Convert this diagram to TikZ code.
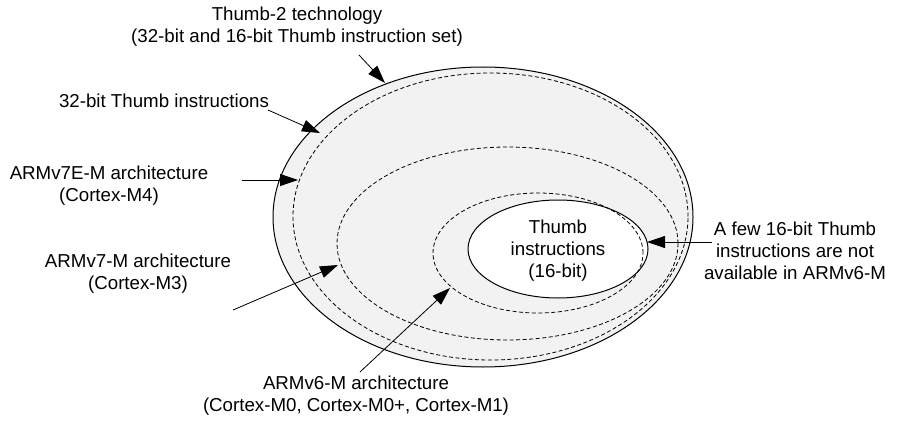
\documentclass[tikz,border=0pt]{standalone}
\usepackage{fontspec}
\setmainfont{Liberation Sans}
\usetikzlibrary{arrows.meta}

\definecolor{setgray}{RGB}{242,242,242}
\tikzset{
  region/.style={line width=1pt},
  subset/.style={line width=0.8pt, dash pattern=on 4pt off 2.5pt},
  pointer/.style={line width=0.8pt, -{Triangle[length=18pt,width=12pt]}},
  txt/.style={align=center, inner sep=0pt}
}

\begin{document}
\begin{tikzpicture}[x=1pt,y=-1pt,font=\fontsize{18.7}{22}\selectfont]
    \useasboundingbox (0,0) rectangle (909,422);
    % the sets
    \draw[region,fill=setgray] (483,217) ellipse [x radius=210pt,y radius=150pt];
    \draw[subset] (490.5,216.5) ellipse [x radius=197.5pt,y radius=143.5pt];
    \draw[subset] (507.5,243.5) ellipse [x radius=170.5pt,y radius=96.5pt];
    \draw[region,fill=white] (558,249) ellipse [x radius=90pt,y radius=49pt];
    \draw[subset] (538,253) ellipse [x radius=105pt,y radius=60pt];
    % labels
    \node[txt] (thumbtwo) at (297,27) {Thumb-2 technology\\(32-bit and 16-bit Thumb instruction set)};
    \node[txt] (thirtytwo) at (164,101) {32-bit Thumb instructions};
    \node[txt] (armsevene) at (109,186) {ARMv7E-M architecture\\(Cortex-M4)};
    \node[txt] (armseven) at (138,274) {ARMv7-M architecture\\(Cortex-M3)};
    \node[txt] (armsix) at (356,396) {ARMv6-M architecture\\(Cortex-M0, Cortex-M0+, Cortex-M1)};
    \node[txt] (sixteen) at (558,251) {Thumb\\instructions\\(16-bit)};
    \node[txt] (notinsix) at (795,251) {A few 16-bit Thumb\\instructions are not\\available in ARMv6-M};
    % arrow ends
    \coordinate (thumbtwo-from) at (359,55);
    \coordinate (thumbtwo-to) at (385,83);
    \coordinate (thirtytwo-from) at (268,110);
    \coordinate (thirtytwo-to) at (320,133);
    \coordinate (armsevene-from) at (242,180);
    \coordinate (armsevene-to) at (298,180);
    \coordinate (armseven-from) at (233,310);
    \coordinate (armseven-to) at (338,265);
    \coordinate (armsix-from) at (360,372);
    \coordinate (armsix-to) at (450,288);
    \coordinate (notinsix-from) at (712,242);
    \coordinate (notinsix-to) at (647,242);
    % arrows
    \draw[pointer] (thumbtwo-from) -- (thumbtwo-to);
    \draw[pointer] (thirtytwo-from) -- (thirtytwo-to);
    \draw[pointer] (armsevene-from) -- (armsevene-to);
    \draw[pointer] (armseven-from) -- (armseven-to);
    \draw[pointer] (armsix-from) -- (armsix-to);
    \draw[pointer] (notinsix-from) -- (notinsix-to);
\end{tikzpicture}
\end{document}
